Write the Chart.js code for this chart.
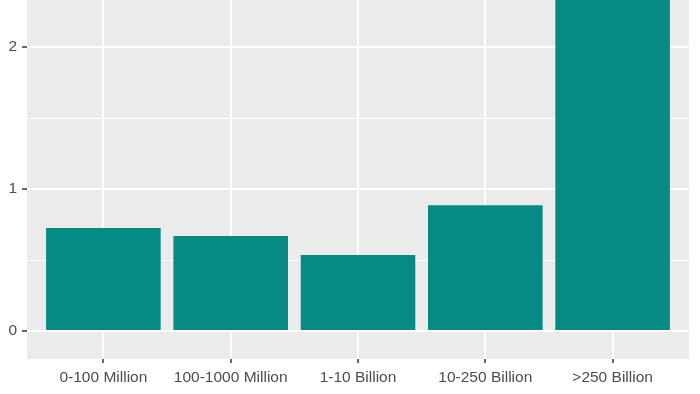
<!DOCTYPE html>
<html>
<head>
<meta charset="utf-8">
<script src="https://cdn.jsdelivr.net/npm/chart.js@4.4.0/dist/chart.umd.min.js"></script>
<style>
  html, body { margin: 0; padding: 0; background: #fff; }
  #wrap { width: 700px; height: 394px; }
</style>
</head>
<body>
<div id="wrap"><canvas id="chart" width="700" height="394"></canvas></div>
<script>
// data (last bar runs off the top)
const categories = ['0-100 Million', '100-1000 Million', '1-10 Billion', '10-250 Billion', '>250 Billion'];
const values = [0.725, 0.67, 0.535, 0.885, 3.9];
const yTicks = [0, 0.5, 1, 1.5, 2];
const yLabels = ['0', '', '1', '', '2'];

const panelBg = {
    id: 'panelBg',
    beforeDraw(chart) {
        const { ctx, chartArea: a } = chart;
        ctx.save();
        ctx.fillStyle = '#fff';
        ctx.fillRect(0, 0, chart.width, chart.height);
        ctx.fillStyle = '#EBEBEB';
        ctx.fillRect(a.left, a.top, a.right - a.left, a.bottom - a.top);
        ctx.restore();
    }
};

const isMajor = v => Number.isInteger(v);
const noPad = s => { s.paddingTop = 0; s.paddingBottom = 0; s.paddingLeft = 0; s.paddingRight = 0; };

new Chart(document.getElementById('chart'), {
    type: 'bar',
    data: {
        datasets: [{
            data: values.map((v, i) => ({ x: i, y: v })),
            backgroundColor: '#058a84',
            borderWidth: 0,
            categoryPercentage: 1,
            barPercentage: 0.9
        }]
    },
    options: {
        responsive: false,
        animation: false,
        layout: { padding: { top: 0, right: 11, left: 0, bottom: 0 } },
        plugins: { legend: { display: false }, tooltip: { enabled: false } },
        scales: {
            x: {
                type: 'linear',
                offset: false,
                min: -0.6,
                max: 4.6,
                afterBuildTicks: s => { s.ticks = categories.map((c, i) => ({ value: i })); },
                afterFit: s => { s.height = 35; noPad(s); },
                border: { display: false },
                grid: { offset: false, color: '#fff', lineWidth: 2, tickLength: 4, tickColor: '#333', tickWidth: 1.5 },
                ticks: {
                    callback: v => categories[v],
                    color: '#4d4d4d',
                    padding: 5,
                    maxRotation: 0,
                    autoSkip: false,
                    font: { family: 'Liberation Sans, Arial, sans-serif', size: 15.5 }
                }
            },
            y: {
                min: -0.197,
                max: 2.331,
                afterBuildTicks: s => { s.ticks = yTicks.map(v => ({ value: v })); },
                afterFit: s => { s.width = 27; noPad(s); },
                border: { display: false },
                grid: {
                    color: '#fff',
                    lineWidth: c => isMajor(c.tick.value) ? 2 : 1,
                    tickLength: 5,
                    tickColor: c => isMajor(c.tick.value) ? '#333' : 'rgba(0,0,0,0)',
                    tickWidth: 1.5
                },
                ticks: {
                    callback: (v, i) => yLabels[i],
                    color: '#4d4d4d',
                    padding: 5,
                    font: { family: 'Liberation Sans, Arial, sans-serif', size: 15.5 }
                }
            }
        }
    },
    plugins: [panelBg]
});
</script>
</body>
</html>
